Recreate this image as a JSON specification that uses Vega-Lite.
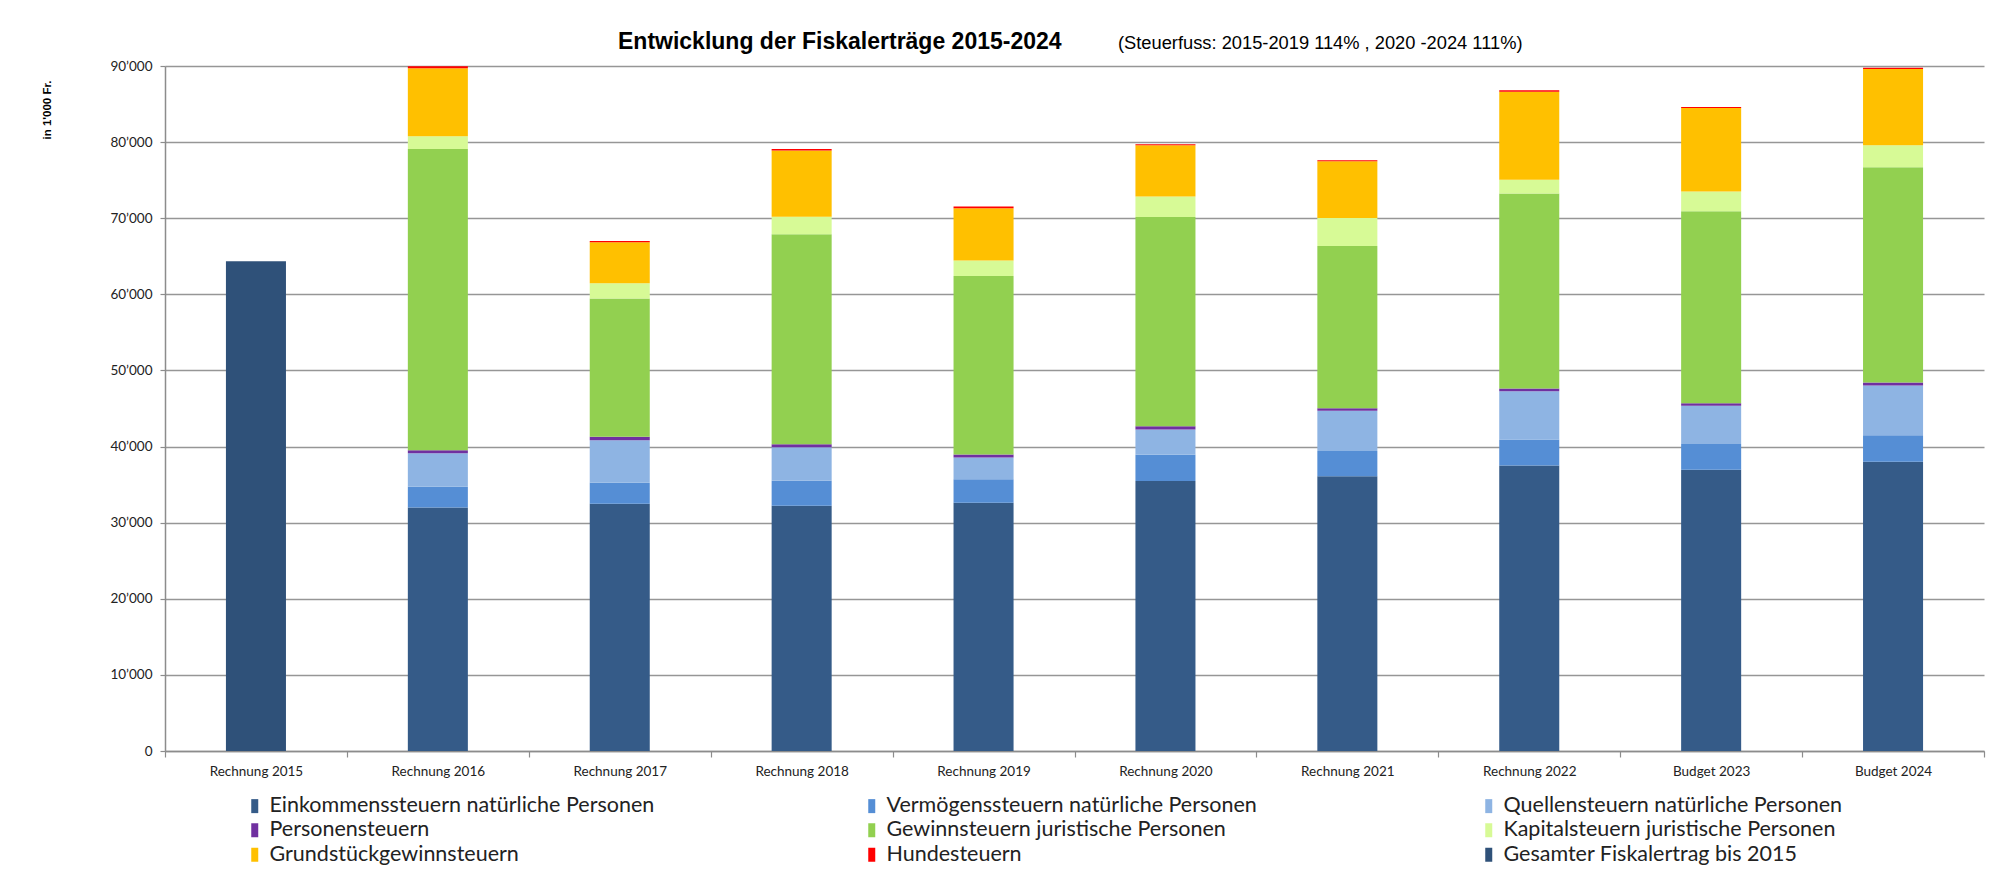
{
  "$schema": "https://vega.github.io/schema/vega-lite/v6.json",
  "width": 1819,
  "height": 685,
  "autosize": {"type": "none"},
  "padding": {"left": 165, "top": 66, "right": 27, "bottom": 131},
  "background": "white",
  "title": {
    "text": "Entwicklung der Fiskalerträge 2015-2024",
    "subtitle": "(Steuerfuss: 2015-2019 114% , 2020 -2024 111%)",
    "anchor": "start",
    "frame": "group",
    "font": "Liberation Sans",
    "fontSize": 23,
    "fontWeight": "bold",
    "color": "#000000",
    "subtitleFont": "Liberation Sans",
    "subtitleFontSize": 18.3,
    "subtitleColor": "#000000",
    "subtitlePadding": -19,
    "dx": 953,
    "offset": 5,
    "encoding": {"dx": {"value": 453}}
  },
  "data": {
    "values": [
      {"Jahr": "Rechnung 2015", "Steuerart": "Gesamter Fiskalertrag bis 2015", "Nr": 9, "Betrag": 64350},
      {"Jahr": "Rechnung 2016", "Steuerart": "Einkommenssteuern natürliche Personen", "Nr": 1, "Betrag": 32000},
      {"Jahr": "Rechnung 2016", "Steuerart": "Vermögenssteuern natürliche Personen", "Nr": 2, "Betrag": 2710},
      {"Jahr": "Rechnung 2016", "Steuerart": "Quellensteuern natürliche Personen", "Nr": 3, "Betrag": 4420},
      {"Jahr": "Rechnung 2016", "Steuerart": "Personensteuern", "Nr": 4, "Betrag": 400},
      {"Jahr": "Rechnung 2016", "Steuerart": "Gewinnsteuern juristische Personen", "Nr": 5, "Betrag": 39570},
      {"Jahr": "Rechnung 2016", "Steuerart": "Kapitalsteuern juristische Personen", "Nr": 6, "Betrag": 1660},
      {"Jahr": "Rechnung 2016", "Steuerart": "Grundstückgewinnsteuern", "Nr": 7, "Betrag": 8940},
      {"Jahr": "Rechnung 2016", "Steuerart": "Hundesteuern", "Nr": 8, "Betrag": 260},
      {"Jahr": "Rechnung 2017", "Steuerart": "Einkommenssteuern natürliche Personen", "Nr": 1, "Betrag": 32480},
      {"Jahr": "Rechnung 2017", "Steuerart": "Vermögenssteuern natürliche Personen", "Nr": 2, "Betrag": 2760},
      {"Jahr": "Rechnung 2017", "Steuerart": "Quellensteuern natürliche Personen", "Nr": 3, "Betrag": 5600},
      {"Jahr": "Rechnung 2017", "Steuerart": "Personensteuern", "Nr": 4, "Betrag": 440},
      {"Jahr": "Rechnung 2017", "Steuerart": "Gewinnsteuern juristische Personen", "Nr": 5, "Betrag": 18170},
      {"Jahr": "Rechnung 2017", "Steuerart": "Kapitalsteuern juristische Personen", "Nr": 6, "Betrag": 2010},
      {"Jahr": "Rechnung 2017", "Steuerart": "Grundstückgewinnsteuern", "Nr": 7, "Betrag": 5390},
      {"Jahr": "Rechnung 2017", "Steuerart": "Hundesteuern", "Nr": 8, "Betrag": 170},
      {"Jahr": "Rechnung 2018", "Steuerart": "Einkommenssteuern natürliche Personen", "Nr": 1, "Betrag": 32210},
      {"Jahr": "Rechnung 2018", "Steuerart": "Vermögenssteuern natürliche Personen", "Nr": 2, "Betrag": 3290},
      {"Jahr": "Rechnung 2018", "Steuerart": "Quellensteuern natürliche Personen", "Nr": 3, "Betrag": 4420},
      {"Jahr": "Rechnung 2018", "Steuerart": "Personensteuern", "Nr": 4, "Betrag": 390},
      {"Jahr": "Rechnung 2018", "Steuerart": "Gewinnsteuern juristische Personen", "Nr": 5, "Betrag": 27590},
      {"Jahr": "Rechnung 2018", "Steuerart": "Kapitalsteuern juristische Personen", "Nr": 6, "Betrag": 2300},
      {"Jahr": "Rechnung 2018", "Steuerart": "Grundstückgewinnsteuern", "Nr": 7, "Betrag": 8700},
      {"Jahr": "Rechnung 2018", "Steuerart": "Hundesteuern", "Nr": 8, "Betrag": 200},
      {"Jahr": "Rechnung 2019", "Steuerart": "Einkommenssteuern natürliche Personen", "Nr": 1, "Betrag": 32610},
      {"Jahr": "Rechnung 2019", "Steuerart": "Vermögenssteuern natürliche Personen", "Nr": 2, "Betrag": 3110},
      {"Jahr": "Rechnung 2019", "Steuerart": "Quellensteuern natürliche Personen", "Nr": 3, "Betrag": 2850},
      {"Jahr": "Rechnung 2019", "Steuerart": "Personensteuern", "Nr": 4, "Betrag": 390},
      {"Jahr": "Rechnung 2019", "Steuerart": "Gewinnsteuern juristische Personen", "Nr": 5, "Betrag": 23460},
      {"Jahr": "Rechnung 2019", "Steuerart": "Kapitalsteuern juristische Personen", "Nr": 6, "Betrag": 2020},
      {"Jahr": "Rechnung 2019", "Steuerart": "Grundstückgewinnsteuern", "Nr": 7, "Betrag": 6860},
      {"Jahr": "Rechnung 2019", "Steuerart": "Hundesteuern", "Nr": 8, "Betrag": 230},
      {"Jahr": "Rechnung 2020", "Steuerart": "Einkommenssteuern natürliche Personen", "Nr": 1, "Betrag": 35460},
      {"Jahr": "Rechnung 2020", "Steuerart": "Vermögenssteuern natürliche Personen", "Nr": 2, "Betrag": 3450},
      {"Jahr": "Rechnung 2020", "Steuerart": "Quellensteuern natürliche Personen", "Nr": 3, "Betrag": 3330},
      {"Jahr": "Rechnung 2020", "Steuerart": "Personensteuern", "Nr": 4, "Betrag": 440},
      {"Jahr": "Rechnung 2020", "Steuerart": "Gewinnsteuern juristische Personen", "Nr": 5, "Betrag": 27490},
      {"Jahr": "Rechnung 2020", "Steuerart": "Kapitalsteuern juristische Personen", "Nr": 6, "Betrag": 2670},
      {"Jahr": "Rechnung 2020", "Steuerart": "Grundstückgewinnsteuern", "Nr": 7, "Betrag": 6740},
      {"Jahr": "Rechnung 2020", "Steuerart": "Hundesteuern", "Nr": 8, "Betrag": 150},
      {"Jahr": "Rechnung 2021", "Steuerart": "Einkommenssteuern natürliche Personen", "Nr": 1, "Betrag": 36110},
      {"Jahr": "Rechnung 2021", "Steuerart": "Vermögenssteuern natürliche Personen", "Nr": 2, "Betrag": 3290},
      {"Jahr": "Rechnung 2021", "Steuerart": "Quellensteuern natürliche Personen", "Nr": 3, "Betrag": 5290},
      {"Jahr": "Rechnung 2021", "Steuerart": "Personensteuern", "Nr": 4, "Betrag": 350},
      {"Jahr": "Rechnung 2021", "Steuerart": "Gewinnsteuern juristische Personen", "Nr": 5, "Betrag": 21320},
      {"Jahr": "Rechnung 2021", "Steuerart": "Kapitalsteuern juristische Personen", "Nr": 6, "Betrag": 3670},
      {"Jahr": "Rechnung 2021", "Steuerart": "Grundstückgewinnsteuern", "Nr": 7, "Betrag": 7450},
      {"Jahr": "Rechnung 2021", "Steuerart": "Hundesteuern", "Nr": 8, "Betrag": 140},
      {"Jahr": "Rechnung 2022", "Steuerart": "Einkommenssteuern natürliche Personen", "Nr": 1, "Betrag": 37520},
      {"Jahr": "Rechnung 2022", "Steuerart": "Vermögenssteuern natürliche Personen", "Nr": 2, "Betrag": 3410},
      {"Jahr": "Rechnung 2022", "Steuerart": "Quellensteuern natürliche Personen", "Nr": 3, "Betrag": 6350},
      {"Jahr": "Rechnung 2022", "Steuerart": "Personensteuern", "Nr": 4, "Betrag": 350},
      {"Jahr": "Rechnung 2022", "Steuerart": "Gewinnsteuern juristische Personen", "Nr": 5, "Betrag": 25610},
      {"Jahr": "Rechnung 2022", "Steuerart": "Kapitalsteuern juristische Personen", "Nr": 6, "Betrag": 1830},
      {"Jahr": "Rechnung 2022", "Steuerart": "Grundstückgewinnsteuern", "Nr": 7, "Betrag": 11560},
      {"Jahr": "Rechnung 2022", "Steuerart": "Hundesteuern", "Nr": 8, "Betrag": 170},
      {"Jahr": "Budget 2023", "Steuerart": "Einkommenssteuern natürliche Personen", "Nr": 1, "Betrag": 36940},
      {"Jahr": "Budget 2023", "Steuerart": "Vermögenssteuern natürliche Personen", "Nr": 2, "Betrag": 3390},
      {"Jahr": "Budget 2023", "Steuerart": "Quellensteuern natürliche Personen", "Nr": 3, "Betrag": 5020},
      {"Jahr": "Budget 2023", "Steuerart": "Personensteuern", "Nr": 4, "Betrag": 350},
      {"Jahr": "Budget 2023", "Steuerart": "Gewinnsteuern juristische Personen", "Nr": 5, "Betrag": 25210},
      {"Jahr": "Budget 2023", "Steuerart": "Kapitalsteuern juristische Personen", "Nr": 6, "Betrag": 2590},
      {"Jahr": "Budget 2023", "Steuerart": "Grundstückgewinnsteuern", "Nr": 7, "Betrag": 10980},
      {"Jahr": "Budget 2023", "Steuerart": "Hundesteuern", "Nr": 8, "Betrag": 140},
      {"Jahr": "Budget 2024", "Steuerart": "Einkommenssteuern natürliche Personen", "Nr": 1, "Betrag": 37990},
      {"Jahr": "Budget 2024", "Steuerart": "Vermögenssteuern natürliche Personen", "Nr": 2, "Betrag": 3510},
      {"Jahr": "Budget 2024", "Steuerart": "Quellensteuern natürliche Personen", "Nr": 3, "Betrag": 6520},
      {"Jahr": "Budget 2024", "Steuerart": "Personensteuern", "Nr": 4, "Betrag": 400},
      {"Jahr": "Budget 2024", "Steuerart": "Gewinnsteuern juristische Personen", "Nr": 5, "Betrag": 28270},
      {"Jahr": "Budget 2024", "Steuerart": "Kapitalsteuern juristische Personen", "Nr": 6, "Betrag": 2890},
      {"Jahr": "Budget 2024", "Steuerart": "Grundstückgewinnsteuern", "Nr": 7, "Betrag": 10020},
      {"Jahr": "Budget 2024", "Steuerart": "Hundesteuern", "Nr": 8, "Betrag": 180}
    ]
  },
  "mark": {"type": "bar", "width": {"band": 0.33}},
  "encoding": {
    "x": {
      "field": "Jahr",
      "type": "nominal",
      "sort": null,
      "scale": {"paddingInner": 0, "paddingOuter": 0},
      "axis": {
        "title": null,
        "labelAngle": 0,
        "tickBand": "extent",
        "labelFont": "Lato",
        "labelFontSize": 13.5,
        "labelColor": "#222222",
        "labelPadding": 7,
        "domainColor": "#8c8c8c",
        "domainWidth": 1.5,
        "tickColor": "#8c8c8c",
        "tickSize": 6,
        "tickWidth": 1.2,
        "grid": false
      }
    },
    "y": {
      "field": "Betrag",
      "type": "quantitative",
      "stack": "zero",
      "scale": {"domain": [0, 90000], "nice": false},
      "axis": {
        "values": [0, 10000, 20000, 30000, 40000, 50000, 60000, 70000, 80000, 90000],
        "format": ",d",
        "title": "in 1'000 Fr.",
        "titleFont": "Liberation Sans",
        "titleFontSize": 11.5,
        "titleFontWeight": "bold",
        "titleColor": "#000000",
        "titleAngle": -90,
        "titleAnchor": "end",
        "titleAlign": "right",
        "titleBaseline": "middle",
        "titleX": -118,
        "titleY": 14,
        "labelFont": "Lato",
        "labelFontSize": 13.5,
        "labelColor": "#222222",
        "labelPadding": 8,
        "domainColor": "#8c8c8c",
        "domainWidth": 1.5,
        "tickColor": "#8c8c8c",
        "tickSize": 5,
        "tickWidth": 1.2,
        "grid": true,
        "gridColor": "#969696",
        "gridWidth": 1.6
      }
    },
    "color": {
      "field": "Steuerart",
      "type": "nominal",
      "scale": {
        "domain": [
          "Einkommenssteuern natürliche Personen",
          "Vermögenssteuern natürliche Personen",
          "Quellensteuern natürliche Personen",
          "Personensteuern",
          "Gewinnsteuern juristische Personen",
          "Kapitalsteuern juristische Personen",
          "Grundstückgewinnsteuern",
          "Hundesteuern",
          "Gesamter Fiskalertrag bis 2015"
        ],
        "range": ["#355b88", "#558ed5", "#8eb4e3", "#7030a0", "#92d050", "#d7fa96", "#ffc000", "#ff0000", "#2f5179"]
      },
      "legend": {
        "title": null,
        "orient": "none",
        "legendX": 79,
        "legendY": 729,
        "direction": "horizontal",
        "columns": 3,
        "gridAlign": "all",
        "columnPadding": 206,
        "rowPadding": 1.5,
        "symbolType": "M-0.5,-1H0.5V1H-0.5Z",
        "symbolSize": 196,
        "symbolStrokeWidth": 0,
        "symbolOpacity": 1,
        "labelFont": "Lato",
        "labelFontSize": 21.5,
        "labelColor": "#222222",
        "labelLimit": 700,
        "labelOffset": 4
      }
    },
    "order": {"field": "Nr", "type": "quantitative"}
  },
  "config": {
    "view": {"stroke": null},
    "locale": {
      "number": {"decimal": ".", "thousands": "’", "grouping": [3], "currency": ["", ""]}
    }
  }
}
